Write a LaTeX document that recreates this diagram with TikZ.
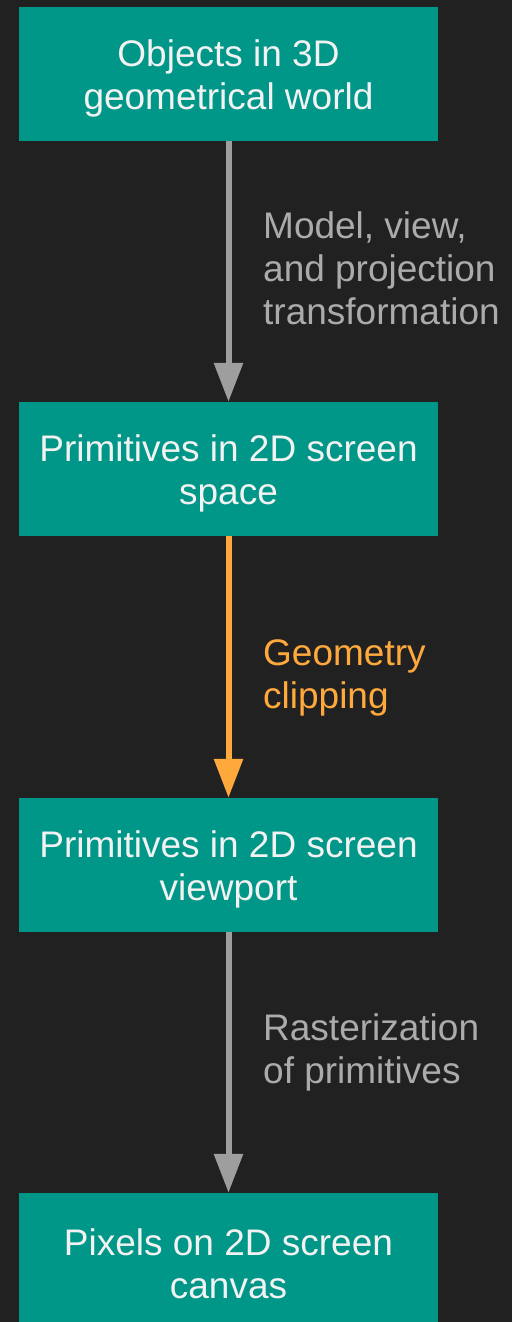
\documentclass[tikz,border=0pt]{standalone}
\usepackage{fontspec}
\setmainfont{Liberation Sans}
\usetikzlibrary{arrows.meta}
\definecolor{bgdark}{HTML}{212121}
\definecolor{teal}{HTML}{009688}
\definecolor{boxtext}{HTML}{F2F2F2}
\definecolor{flowgray}{HTML}{9E9E9E}
\definecolor{labelgray}{HTML}{ABABAB}
\definecolor{floworange}{HTML}{FFA93D}
\begin{document}
\begin{tikzpicture}[x=1pt,y=-1pt,
  stage/.style={rectangle, fill=teal, minimum width=419pt,
    minimum height=134pt, inner sep=0pt},
  stagetext/.style={text=boxtext, inner sep=0pt, align=center, yshift=-4pt,
    font=\fontsize{37pt}{43pt}\selectfont},
  edgelabel/.style={anchor=west, align=left, inner sep=0pt,
    font=\fontsize{37pt}{43pt}\selectfont},
  flow/.style={line width=6pt, -{Triangle[width=28pt,length=39pt]}}]
  \fill[bgdark] (0,0) rectangle (512,1322);
  \useasboundingbox (0,0) rectangle (512,1322);

  % pipeline stages
  \node[stage] (world) at (228.5,74) {};
  \node[stage] (space) at (228.5,469) {};
  \node[stage] (viewport) at (228.5,865) {};
  \node[stage] (canvas) at (228.5,1260) {};
  \node[stagetext] (worldtext) at (world.center) {Objects in 3D\\geometrical world};
  \node[stagetext] (spacetext) at (space.center) {Primitives in 2D screen\\space};
  \node[stagetext] (viewporttext) at (viewport.center) {Primitives in 2D screen\\viewport};
  \node[stagetext] (canvastext) at (canvas.center) {Pixels on 2D screen\\canvas};

  % transitions
  \draw[flow, flowgray] (world.south) -- (space.north);
  \draw[flow, floworange] (space.south) -- (viewport.north);
  \draw[flow, flowgray] (viewport.south) -- (canvas.north);

  \node[edgelabel, text=labelgray] (l1) at (263,268.5)
    {Model, view,\\and projection\\transformation};
  \node[edgelabel, text=floworange] (l2) at (263,678)
    {Geometry\\clipping};
  \node[edgelabel, text=labelgray] (l3) at (263,1052.5)
    {Rasterization\\of primitives};
\end{tikzpicture}
\end{document}
